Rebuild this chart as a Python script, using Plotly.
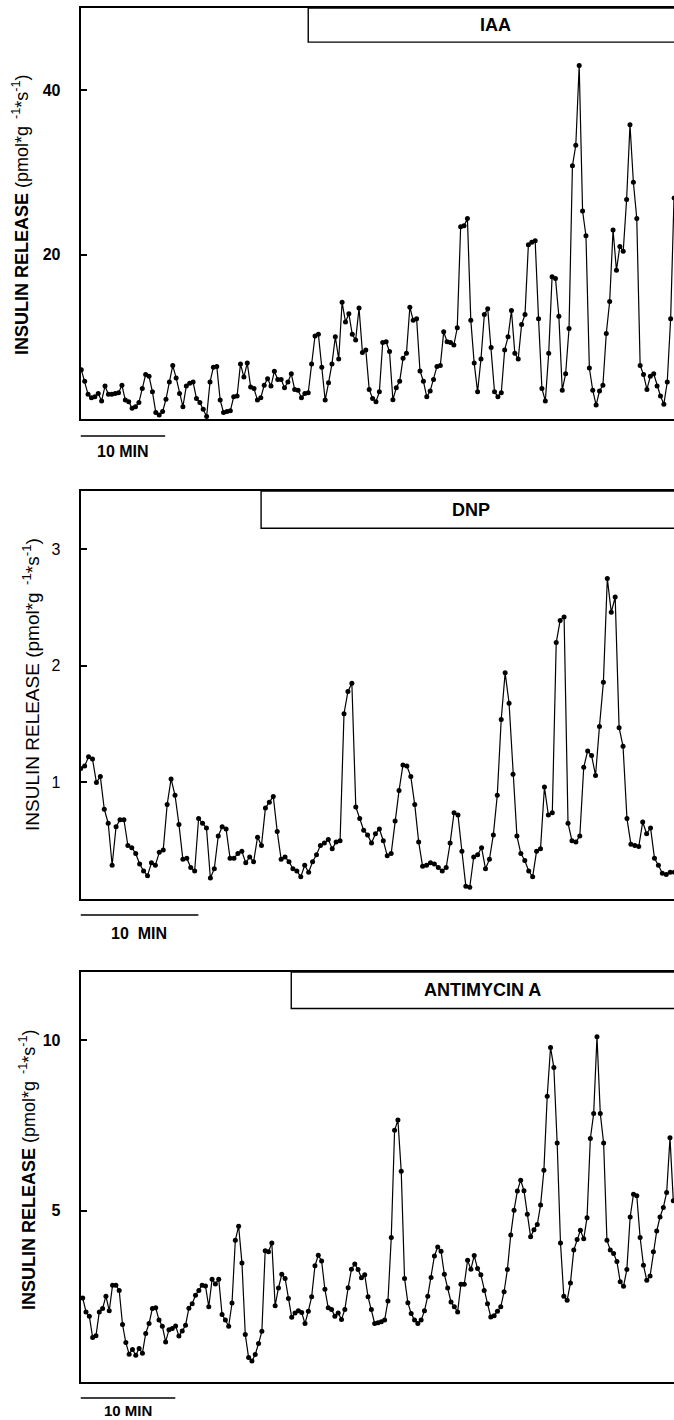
import plotly.graph_objects as go

# ---------------- data (insulin release, pmol*g^-1*s^-1) ----------------
iaa_release = [
    6.0, 4.6, 3.0, 2.6, 2.7, 3.1, 2.2, 4.0, 3.0, 3.0, 3.1, 3.2, 4.1, 2.3, 2.1, 1.3, 1.5, 2.0, 3.7, 5.4,
    5.2, 3.3, 0.8, 0.5, 0.9, 2.4, 4.5, 6.5, 5.0, 3.1, 1.5, 4.0, 4.35, 4.5, 2.5, 2.0, 1.2, 0.3, 4.5, 6.3,
    6.4, 2.3, 0.8, 0.9, 1.0, 2.7, 2.8, 6.7, 5.1, 6.8, 3.9, 3.7, 2.3, 2.6, 4.1, 4.9, 4.0, 5.8,
    4.8, 4.8, 3.8, 4.5, 5.5, 3.6, 3.5, 2.6, 3.1, 3.2, 6.7, 10.1, 10.3, 6.3, 2.3, 4.4, 6.7, 10.0, 7.3, 14.2,
    11.8, 12.8, 10.3, 9.6, 13.5, 8.1, 8.4, 3.6, 2.5, 2.1, 3.3, 9.3, 9.4, 8.2, 2.35, 3.8, 4.6, 7.4, 8.0, 13.6,
    12.0, 12.2, 5.85, 4.6, 2.7, 3.4, 4.8, 6.4, 6.5, 10.6, 9.4, 9.3, 9.0, 11.1, 23.4, 23.5, 24.4, 12.0, 6.8,
    3.3, 7.3, 12.7, 13.4, 8.7, 3.3, 2.7, 3.2, 8.4, 10.0, 13.2, 8.0, 7.3, 11.5, 12.7, 21.2, 21.5, 21.7, 12.2, 3.7,
    2.2, 8.0, 17.3, 17.1, 12.5, 3.5, 5.5, 11.0, 30.8, 33.3, 43.0, 25.3, 22.3, 6.2, 3.5, 1.7, 3.4, 4.1, 10.4, 14.3,
    23.0, 18.1, 21.0, 20.4, 26.7, 35.8, 28.8, 24.4, 6.5, 5.4, 3.6, 5.2, 5.5, 4.0, 2.8, 1.8, 4.5, 12.2, 26.9,
]
dnp_release = [
    1.12, 1.14, 1.22, 1.20, 1.00, 1.05, 0.77, 0.65, 0.29, 0.62, 0.68, 0.68, 0.46, 0.44, 0.39, 0.30, 0.24, 0.20, 0.31, 0.29,
    0.40, 0.42, 0.81, 1.03, 0.89, 0.64, 0.34, 0.35, 0.27, 0.24, 0.69, 0.65, 0.61, 0.18, 0.26, 0.54, 0.62, 0.60, 0.35, 0.35,
    0.39, 0.41, 0.31, 0.36, 0.32, 0.53, 0.46, 0.78, 0.83, 0.88, 0.58,
    0.34, 0.36, 0.32, 0.26, 0.24, 0.19, 0.29, 0.23, 0.32, 0.38, 0.46, 0.48, 0.51, 0.43, 0.49, 0.50, 1.59, 1.78, 1.85, 0.79,
    0.69, 0.59, 0.55, 0.48, 0.56, 0.60, 0.50, 0.37, 0.39, 0.67, 0.93, 1.15, 1.14, 1.05, 0.81, 0.49, 0.28, 0.29, 0.31, 0.30,
    0.27, 0.24, 0.27, 0.48, 0.74, 0.72, 0.41, 0.11, 0.10, 0.36,
    0.38, 0.44, 0.26, 0.34, 0.55, 0.89, 1.54, 1.94, 1.68, 1.07, 0.54, 0.39, 0.33, 0.24, 0.19, 0.41, 0.43, 0.96, 0.72, 0.74,
    2.20, 2.39, 2.42, 0.65, 0.50, 0.49, 0.54, 1.13, 1.27, 1.23, 1.06, 1.48, 1.86, 2.75, 2.46, 2.59, 1.47, 1.31, 0.69, 0.47,
    0.46, 0.45, 0.66, 0.56, 0.61, 0.35, 0.29, 0.22, 0.21, 0.23, 0.23,
]
antimycin_release = [
    2.45, 2.04, 1.91, 1.29, 1.34, 2.04, 2.14, 2.50, 2.07, 2.82, 2.82, 2.67, 1.67, 1.14, 0.80, 0.94, 0.77, 0.97, 0.83, 1.41,
    1.70, 2.14, 2.16, 1.80, 1.62, 1.16, 1.52, 1.55, 1.63, 1.33, 1.48, 1.65, 2.15, 2.28, 2.53, 2.67, 2.82, 2.80, 2.19, 3.00,
    2.86, 3.00, 1.96, 1.80, 1.62, 2.30, 4.14, 4.55, 3.47, 1.38, 0.70, 0.60, 0.79, 1.11, 1.47, 3.83, 3.80, 4.06, 2.22, 2.74,
    3.14, 3.02, 2.43, 1.88, 2.01, 2.07, 2.02, 1.70, 2.06, 2.48, 3.39, 3.70, 3.53, 2.70, 2.16, 2.11, 1.91, 2.01,
    1.82, 2.11, 2.75, 3.29, 3.44, 3.28, 3.04, 3.13, 2.48, 2.11, 1.70, 1.72, 1.75, 1.80, 2.36, 4.22, 7.36, 7.66, 6.16, 3.02,
    2.31, 1.99, 1.80, 1.70, 1.80, 2.07, 2.50, 3.05, 3.68, 3.94, 3.82, 3.14, 2.74, 2.33, 2.19, 2.04, 2.85, 2.85, 3.55, 3.29,
    3.69, 3.31, 3.13, 2.67, 2.28, 1.89, 1.93, 2.06, 2.19, 2.63, 3.28, 4.29, 5.02, 5.58, 5.90, 5.59, 4.90, 4.24, 4.45, 4.60,
    5.17, 6.19, 8.36, 9.79, 9.20, 6.99, 4.06, 2.50, 2.38, 2.89, 3.85, 4.16, 4.43, 4.18, 4.80, 7.12, 7.85, 10.10, 7.85, 6.99,
    4.14, 3.85, 3.75, 3.52, 2.92, 2.79, 3.28, 4.82, 5.49, 5.44, 4.22, 3.41, 2.97, 3.09, 3.80, 4.41, 4.82, 5.10, 5.54, 7.14,
    5.3,
]

series = [iaa_release, dnp_release, antimycin_release]
sample_interval_min = [0.4, 1 / 3, 0.35]          # sampling interval of each experiment
agent_labels = ["IAA", "DNP", "ANTIMYCIN A"]
agent_start_min = [26.8, 15.3, 22.0]              # start of agent bar (min)
agent_text_min = [48.9, 33.1, 42.2]
y_tick_values = [[20, 40], [1, 2, 3], [5, 10]]
y_max = [50, 3.5, 12]
agent_bar_bottom = [45.85, 3.18, 10.93]
scale_label = ["10 MIN", "10  MIN", "10 MIN"]

# ---------------- layout geometry (pixels) ----------------
W, H = 674, 1420
left_px = 80.5
panel_top = [8, 491, 972]
panel_bottom = [419, 899, 1381.5]
first_px = [81.3, 80.7, 82.7]
spacing_px = [3.387, 3.93, 3.318]
scale_y_px = [436, 915, 1398]
scale_text_px = [451, 933, 1410.5]
scale_text_size = [16, 16, 15]
title_center = [(20, 215), (31, 685), (27, 1170)]
title_size = [18, 19, 18]
bold = [True, False, True]

FONT = "Liberation Sans, Arial, Helvetica, sans-serif"

fig = go.Figure()
layout = dict(
    width=W, height=H, margin=dict(l=0, r=0, t=0, b=0),
    paper_bgcolor="white", plot_bgcolor="white", showlegend=False,
    hovermode=False, shapes=[], annotations=[],
    font=dict(family=FONT, color="black"),
)

for i, vals in enumerate(series):
    n = i + 1
    xa = "x" if n == 1 else f"x{n}"
    ya = "y" if n == 1 else f"y{n}"
    dt = sample_interval_min[i]
    px_per_min = spacing_px[i] / dt
    r0 = -(first_px[i] - left_px) / px_per_min
    r1 = (W - first_px[i]) / px_per_min
    t = [k * dt for k in range(len(vals))]

    fig.add_trace(go.Scatter(
        x=t, y=vals, xaxis=xa, yaxis=ya, mode="lines+markers",
        line=dict(color="black", width=1.2),
        marker=dict(color="black", size=5),
    ))

    ydom = [1 - panel_bottom[i] / H, 1 - panel_top[i] / H]
    weight = "bold" if bold[i] else "normal"
    layout["xaxis" if n == 1 else f"xaxis{n}"] = dict(
        domain=[left_px / W, 1], range=[r0, r1], showline=True, mirror=True,
        linecolor="black", linewidth=1.8, showgrid=False, zeroline=False,
        showticklabels=False, ticks="", anchor=ya, fixedrange=True,
    )
    layout["yaxis" if n == 1 else f"yaxis{n}"] = dict(
        domain=ydom, range=[0, y_max[i]], showline=True, mirror=False,
        linecolor="black", linewidth=1.6, showgrid=False, zeroline=False,
        ticks="inside", ticklen=7, tickwidth=1.5, tickcolor="black",
        tickvals=y_tick_values[i], ticklabelstandoff=15,
        tickfont=dict(size=16, family=FONT, color="black", weight=weight),
        anchor=xa, fixedrange=True,
    )

    # agent bar (box hanging from the top border)
    layout["shapes"].append(dict(
        type="rect", xref=xa, yref=ya, x0=agent_start_min[i], x1=r1 + 5,
        y0=agent_bar_bottom[i], y1=y_max[i], line=dict(color="black", width=1.4),
        fillcolor="rgba(0,0,0,0)",
    ))
    layout["annotations"].append(dict(
        xref=xa, yref=ya, x=agent_text_min[i], y=(agent_bar_bottom[i] + y_max[i]) / 2,
        text=f"<b>{agent_labels[i]}</b>", showarrow=False, xanchor="center", yanchor="middle",
        font=dict(size=18, family=FONT, color="black"),
    ))

    # 10-min scale bar
    layout["shapes"].append(dict(
        type="line", xref=xa, yref="paper", x0=r0, x1=r0 + 10,
        y0=1 - scale_y_px[i] / H, y1=1 - scale_y_px[i] / H,
        line=dict(color="black", width=1.3),
    ))
    layout["annotations"].append(dict(
        xref=xa, yref="paper", x=r0 + 5, y=1 - scale_text_px[i] / H,
        text=f"<b>{scale_label[i]}</b>", showarrow=False, xanchor="center", yanchor="middle",
        font=dict(size=scale_text_size[i], family=FONT, color="black"),
    ))

    # y-axis title
    cx, cy = title_center[i]
    if bold[i]:
        title = "<b>INSULIN RELEASE</b> (pmol*g<sup>  -1</sup>*s<sup>-1</sup>)"
    else:
        title = "INSULIN RELEASE (pmol*g<sup>  -1</sup>*s<sup>-1</sup>)"
    layout["annotations"].append(dict(
        xref="paper", yref="paper", x=cx / W, y=1 - cy / H, text=title,
        textangle=-90, showarrow=False, xanchor="center", yanchor="middle",
        font=dict(size=title_size[i], family=FONT, color="black"),
    ))

fig.update_layout(**layout)
fig.write_html("out.html")
